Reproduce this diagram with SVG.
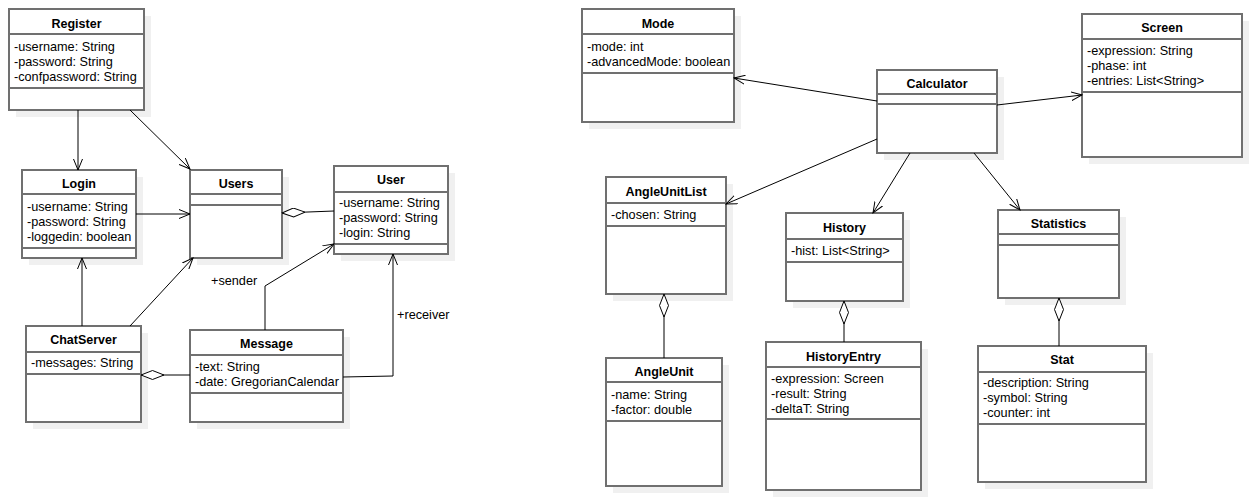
<svg xmlns="http://www.w3.org/2000/svg" width="1252" height="500" viewBox="0 0 1252 500">
<style>
  .shadow { fill: #f0f0f0; }
  .box { fill: #ffffff; stroke: #707070; stroke-width: 2; }
  .div { stroke: #707070; stroke-width: 2; }
  .title { font-family: "Liberation Sans", Arial, sans-serif; font-size: 12.5px; font-weight: bold; fill: #000; text-anchor: middle; }
  .attr { font-family: "Liberation Sans", Arial, sans-serif; font-size: 12.7px; fill: #000; }
  .edge { fill: none; stroke: #000; stroke-width: 1; }
  .assoc { marker-end: url(#open); }
  .agg { marker-start: url(#diamond); }
</style>
<defs>
  <marker id="open" viewBox="0 0 12 10" refX="11" refY="5" markerWidth="12" markerHeight="10" markerUnits="userSpaceOnUse" orient="auto">
    <path d="M0,0.5 L11,5 L0,9.5" fill="none" stroke="#000" stroke-width="1"/>
  </marker>
  <marker id="diamond" viewBox="0 0 24 10" refX="0.5" refY="5" markerWidth="24" markerHeight="10" markerUnits="userSpaceOnUse" orient="auto">
    <path d="M0.5,5 L12,0.5 L23.5,5 L12,9.5 Z" fill="#fff" stroke="#000" stroke-width="1"/>
  </marker>
</defs>
<rect width="1252" height="500" fill="#ffffff"/>

<!-- chat classes -->
<g id="register">
  <rect class="shadow" x="16" y="16" width="135" height="101"/>
  <rect class="box" x="9" y="9" width="135" height="101"/>
  <line class="div" x1="9" y1="34" x2="144" y2="34"/>
  <line class="div" x1="9" y1="88" x2="144" y2="88"/>
  <text class="title" x="76.5" y="28">Register</text>
  <text class="attr" x="14" y="51">-username: String</text>
  <text class="attr" x="14" y="66">-password: String</text>
  <text class="attr" x="14" y="81">-confpassword: String</text>
</g>
<g id="login">
  <rect class="shadow" x="29" y="177" width="114" height="88"/>
  <rect class="box" x="22" y="170" width="114" height="88"/>
  <line class="div" x1="22" y1="194" x2="136" y2="194"/>
  <line class="div" x1="22" y1="248" x2="136" y2="248"/>
  <text class="title" x="79" y="188">Login</text>
  <text class="attr" x="27" y="211">-username: String</text>
  <text class="attr" x="27" y="226">-password: String</text>
  <text class="attr" x="27" y="241">-loggedin: boolean</text>
</g>
<g id="users">
  <rect class="shadow" x="197" y="177" width="92" height="88"/>
  <rect class="box" x="190" y="170" width="92" height="88"/>
  <line class="div" x1="190" y1="194" x2="282" y2="194"/>
  <line class="div" x1="190" y1="205" x2="282" y2="205"/>
  <text class="title" x="236" y="188">Users</text>
</g>
<g id="user">
  <rect class="shadow" x="341" y="173" width="114" height="88"/>
  <rect class="box" x="334" y="166" width="114" height="88"/>
  <line class="div" x1="334" y1="192" x2="448" y2="192"/>
  <line class="div" x1="334" y1="244" x2="448" y2="244"/>
  <text class="title" x="391" y="184">User</text>
  <text class="attr" x="339" y="207">-username: String</text>
  <text class="attr" x="339" y="222">-password: String</text>
  <text class="attr" x="339" y="237">-login: String</text>
</g>
<g id="chatserver">
  <rect class="shadow" x="33" y="333" width="115" height="96"/>
  <rect class="box" x="26" y="326" width="115" height="96"/>
  <line class="div" x1="26" y1="352" x2="141" y2="352"/>
  <line class="div" x1="26" y1="374" x2="141" y2="374"/>
  <text class="title" x="83.5" y="344">ChatServer</text>
  <text class="attr" x="31" y="367">-messages: String</text>
</g>
<g id="message">
  <rect class="shadow" x="197" y="337" width="153" height="92"/>
  <rect class="box" x="190" y="330" width="153" height="92"/>
  <line class="div" x1="190" y1="355" x2="343" y2="355"/>
  <line class="div" x1="190" y1="393" x2="343" y2="393"/>
  <text class="title" x="266.5" y="348">Message</text>
  <text class="attr" x="195" y="371">-text: String</text>
  <text class="attr" x="195" y="386">-date: GregorianCalendar</text>
</g>

<!-- calculator classes -->
<g id="mode">
  <rect class="shadow" x="589" y="16" width="152" height="113"/>
  <rect class="box" x="582" y="9" width="152" height="113"/>
  <line class="div" x1="582" y1="34" x2="734" y2="34"/>
  <line class="div" x1="582" y1="73" x2="734" y2="73"/>
  <text class="title" x="658" y="28">Mode</text>
  <text class="attr" x="587" y="51">-mode: int</text>
  <text class="attr" x="587" y="66">-advancedMode: boolean</text>
</g>
<g id="calculator">
  <rect class="shadow" x="884" y="77" width="120" height="83"/>
  <rect class="box" x="877" y="70" width="120" height="83"/>
  <line class="div" x1="877" y1="94" x2="997" y2="94"/>
  <line class="div" x1="877" y1="104" x2="997" y2="104"/>
  <text class="title" x="937" y="88">Calculator</text>
</g>
<g id="screen">
  <rect class="shadow" x="1089" y="21" width="160" height="143"/>
  <rect class="box" x="1082" y="14" width="160" height="143"/>
  <line class="div" x1="1082" y1="39" x2="1242" y2="39"/>
  <line class="div" x1="1082" y1="92" x2="1242" y2="92"/>
  <text class="title" x="1162" y="32">Screen</text>
  <text class="attr" x="1087" y="55">-expression: String</text>
  <text class="attr" x="1087" y="70">-phase: int</text>
  <text class="attr" x="1087" y="85">-entries: List&lt;String&gt;</text>
</g>
<g id="angleunitlist">
  <rect class="shadow" x="613" y="184" width="120" height="117"/>
  <rect class="box" x="606" y="177" width="120" height="117"/>
  <line class="div" x1="606" y1="203" x2="726" y2="203"/>
  <line class="div" x1="606" y1="226" x2="726" y2="226"/>
  <text class="title" x="666" y="196">AngleUnitList</text>
  <text class="attr" x="611" y="219">-chosen: String</text>
</g>
<g id="history">
  <rect class="shadow" x="793" y="220" width="117" height="88"/>
  <rect class="box" x="786" y="213" width="117" height="88"/>
  <line class="div" x1="786" y1="239" x2="903" y2="239"/>
  <line class="div" x1="786" y1="262" x2="903" y2="262"/>
  <text class="title" x="844.5" y="232">History</text>
  <text class="attr" x="791" y="255">-hist: List&lt;String&gt;</text>
</g>
<g id="statistics">
  <rect class="shadow" x="1005" y="217" width="121" height="88"/>
  <rect class="box" x="998" y="210" width="121" height="88"/>
  <line class="div" x1="998" y1="234" x2="1119" y2="234"/>
  <line class="div" x1="998" y1="245" x2="1119" y2="245"/>
  <text class="title" x="1058.5" y="228">Statistics</text>
</g>
<g id="angleunit">
  <rect class="shadow" x="613" y="365" width="116" height="128"/>
  <rect class="box" x="606" y="358" width="116" height="128"/>
  <line class="div" x1="606" y1="382" x2="722" y2="382"/>
  <line class="div" x1="606" y1="421" x2="722" y2="421"/>
  <text class="title" x="664" y="376">AngleUnit</text>
  <text class="attr" x="611" y="399">-name: String</text>
  <text class="attr" x="611" y="414">-factor: double</text>
</g>
<g id="historyentry">
  <rect class="shadow" x="773" y="349" width="155" height="148"/>
  <rect class="box" x="766" y="342" width="155" height="148"/>
  <line class="div" x1="766" y1="367" x2="921" y2="367"/>
  <line class="div" x1="766" y1="419" x2="921" y2="419"/>
  <text class="title" x="843.5" y="361">HistoryEntry</text>
  <text class="attr" x="771" y="383">-expression: Screen</text>
  <text class="attr" x="771" y="398">-result: String</text>
  <text class="attr" x="771" y="413">-deltaT: String</text>
</g>
<g id="stat">
  <rect class="shadow" x="985" y="353" width="168" height="136"/>
  <rect class="box" x="978" y="346" width="168" height="136"/>
  <line class="div" x1="978" y1="372" x2="1146" y2="372"/>
  <line class="div" x1="978" y1="424" x2="1146" y2="424"/>
  <text class="title" x="1062" y="364">Stat</text>
  <text class="attr" x="983" y="387">-description: String</text>
  <text class="attr" x="983" y="402">-symbol: String</text>
  <text class="attr" x="983" y="417">-counter: int</text>
</g>

<!-- connectors, drawn on top so heads and diamonds sit over box edges -->
<g id="connectors">
  <path class="edge assoc" d="M78,110 L78,170"/>
  <path class="edge assoc" d="M130,110 L190,169"/>
  <path class="edge assoc" d="M136,214 L190,214"/>
  <path class="edge agg" d="M282,213 L334,211"/>
  <path class="edge assoc" d="M82,326 L82,258"/>
  <path class="edge assoc" d="M130,326 L193,258"/>
  <path class="edge agg" d="M141,375 L190,375"/>
  <path class="edge assoc" d="M265,330 L265,286 L334,244"/>
  <path class="edge assoc" d="M343,377 L393,376 L393,254"/>
  <text class="attr" x="211" y="285">+sender</text>
  <text class="attr" x="397" y="319">+receiver</text>

  <path class="edge assoc" d="M877,101 L734,78"/>
  <path class="edge assoc" d="M997,105 L1082,95"/>
  <path class="edge assoc" d="M877,139 L726,204"/>
  <path class="edge assoc" d="M910,153 L873,213"/>
  <path class="edge assoc" d="M974,153 L1020,210"/>
  <path class="edge agg" d="M664,294 L664,358"/>
  <path class="edge agg" d="M844,301 L844,342"/>
  <path class="edge agg" d="M1059,298 L1059,346"/>
</g>
</svg>
